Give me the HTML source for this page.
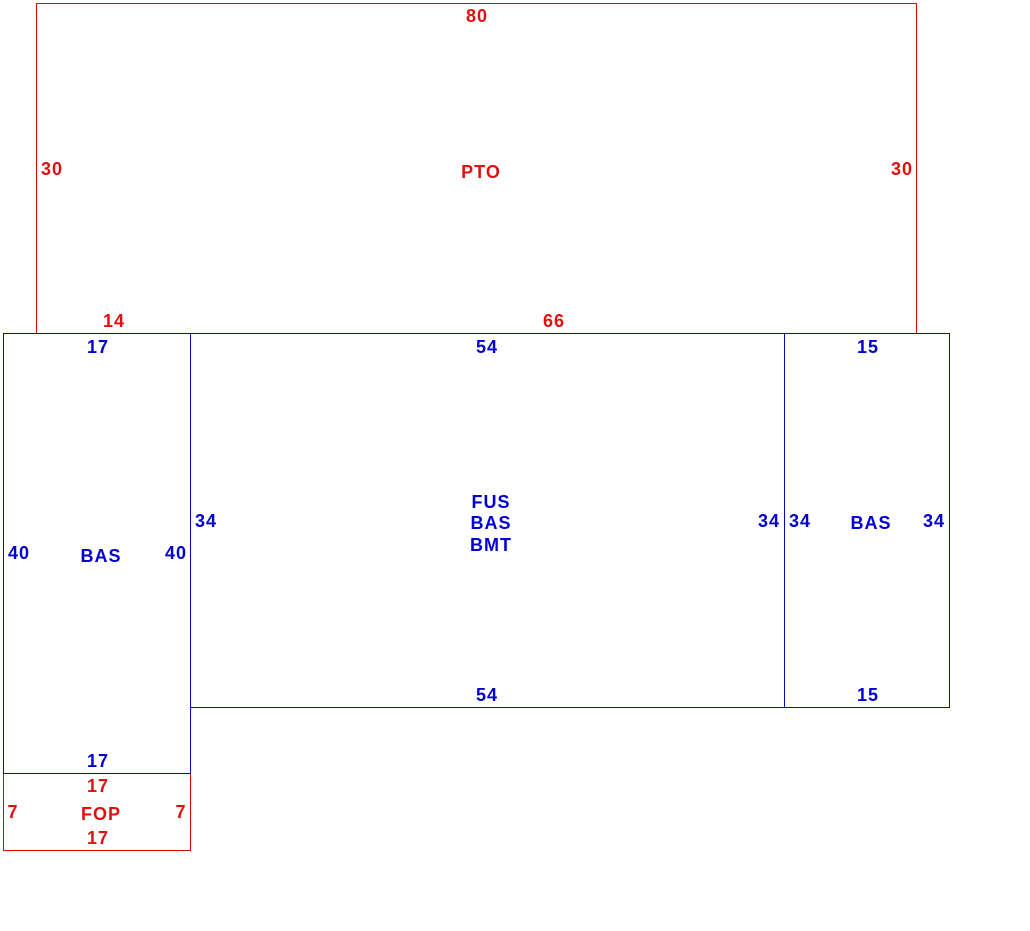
<!DOCTYPE html>
<html><head><style>html,body{margin:0;padding:0;background:#fff;}svg{display:block;}</style></head>
<body>
<svg width="1030" height="931" xmlns="http://www.w3.org/2000/svg" font-family="Liberation Sans, sans-serif" font-weight="bold" font-size="18" letter-spacing="1" text-anchor="middle">
<g fill="none" stroke-width="1.2" shape-rendering="crispEdges">
<rect x="36.5" y="3.5" width="880" height="330" stroke="#e00000"/>
<rect x="3.5" y="773.5" width="187" height="77" stroke="#e00000"/>
<rect x="3.5" y="333.5" width="187" height="440" stroke="#0000e0"/>
<rect x="190.5" y="333.5" width="594" height="374" stroke="#0000e0"/>
<rect x="784.5" y="333.5" width="165" height="374" stroke="#0000e0"/>
</g>
<g fill="#e01010">
<text x="477" y="22">80</text>
<text x="52" y="175">30</text>
<text x="902" y="175">30</text>
<text x="481" y="178">PTO</text>
<text x="114" y="327">14</text>
<text x="554" y="327">66</text>
<text x="98" y="792">17</text>
<text x="13" y="818">7</text>
<text x="101" y="820">FOP</text>
<text x="181" y="818">7</text>
<text x="98" y="844">17</text>
</g>
<g fill="#0000d0">
<text x="98" y="353">17</text>
<text x="487" y="353">54</text>
<text x="868" y="353">15</text>
<text x="206" y="527">34</text>
<text x="769" y="527">34</text>
<text x="800" y="527">34</text>
<text x="934" y="527">34</text>
<text x="491" y="508">FUS</text>
<text x="491" y="529">BAS</text>
<text x="491" y="551">BMT</text>
<text x="871" y="529">BAS</text>
<text x="19" y="559">40</text>
<text x="176" y="559">40</text>
<text x="101" y="562">BAS</text>
<text x="487" y="701">54</text>
<text x="868" y="701">15</text>
<text x="98" y="767">17</text>
</g>
</svg>
</body></html>
